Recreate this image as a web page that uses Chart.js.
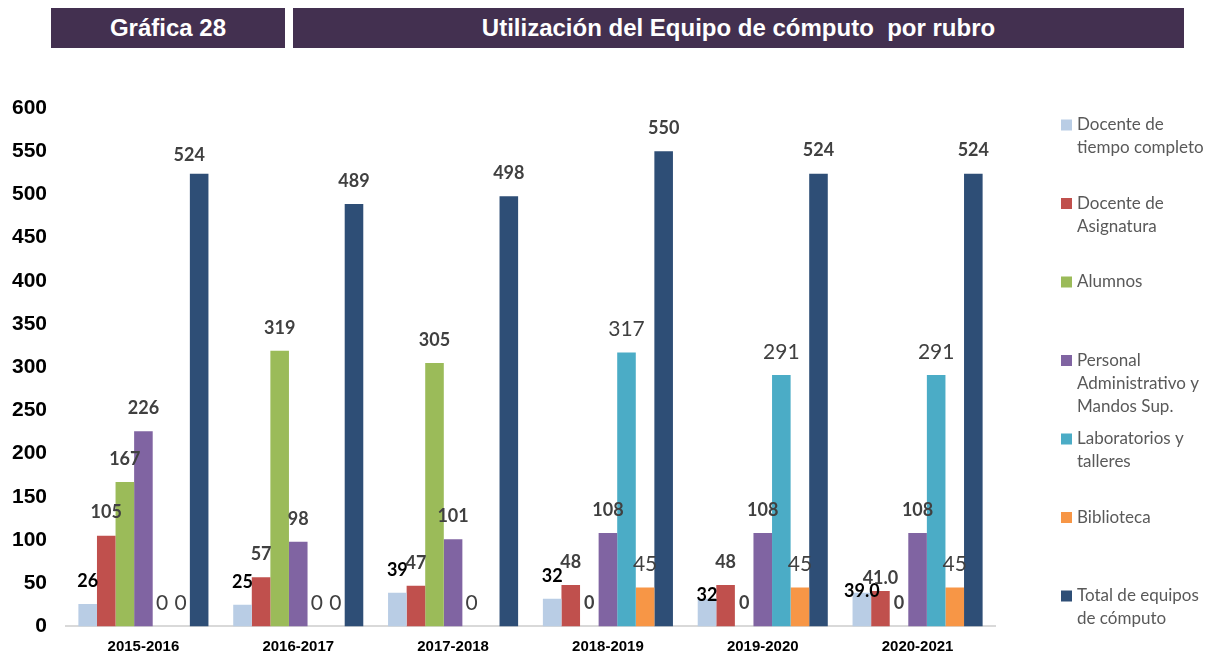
<!DOCTYPE html>
<html>
<head>
<meta charset="utf-8">
<script src="https://cdn.jsdelivr.net/npm/chart.js@4.4.1/dist/chart.umd.min.js"></script>
<style>
  html, body { margin: 0; padding: 0; background: #fff; }
  #wrap { position: relative; width: 1227px; height: 658px; }
  #myChart { position: absolute; left: 0; top: 0; }
  .hdr { position: absolute; top: 8px; height: 40px; background: #433050; color: #fff;
         font: bold 24px "Liberation Sans", Arial, sans-serif; line-height: 40px; text-align: center; }
</style>
</head>
<body>
<div id="wrap">
  <canvas id="myChart" width="1227" height="658"></canvas>
  <div class="hdr" style="left:51px;width:234px;">Gráfica 28</div>
  <div class="hdr" style="left:293px;width:891px;">Utilización del Equipo de cómputo &nbsp;por rubro</div>
</div>
<script>
// data
const years = ["2015-2016", "2016-2017", "2017-2018", "2018-2019", "2019-2020", "2020-2021"];
const docenteTC = [26, 25, 39, 32, 32, 39.0];
const docenteAsig = [105, 57, 47, 48, 48, 41.0];
const alumnos = [167, 319, 305, 0, 0, 0];
const personal = [226, 98, 101, 108, 108, 108];
const laboratorios = [0, 0, 0, 317, 291, 291];
const biblioteca = [0, 0, null, 45, 45, 45];
const totalEquipos = [524, 489, 498, 550, 524, 524];
const yTicks = [0, 50, 100, 150, 200, 250, 300, 350, 400, 450, 500, 550, 600];

const legendLines = [
    ["Docente de", "tiempo completo"],
    ["Docente de", "Asignatura"],
    ["Alumnos"],
    ["Personal", "Administrativo y", "Mandos Sup."],
    ["Laboratorios y", "talleres"],
    ["Biblioteca"],
    ["Total de equipos", "de cómputo"]
];

// label text / nudges (series,index)
const labelText = { "0,5": "39.0", "1,5": "41.0" };
const labelNudge = { "0,4": [0, 19], "0,5": [0, 21], "1,5": [0, 10], "6,0": [-10, 5] };

const boldLbl = 'bold 18px Lato, "Open Sans", sans-serif';
const thinLbl = '21px Lato, "Open Sans", sans-serif';

const labelPlugin = {
    id: 'barLabels',
    afterDatasetsDraw(chart) {
        const c = chart.ctx;
        chart.data.datasets.forEach((ds, i) => {
            const meta = chart.getDatasetMeta(i);
            meta.data.forEach((bar, j) => {
                const v = ds.data[j];
                if (v === null || v === undefined) return;
                const key = i + "," + j;
                const txt = labelText[key] || String(v);
                const n = labelNudge[key] || [0, 0];
                c.save();
                c.font = ds.lblFont;
                c.fillStyle = ds.lblColor;
                c.textAlign = 'center';
                c.textBaseline = 'middle';
                c.fillText(txt, bar.x + n[0], bar.y - 23 + n[1]);
                c.restore();
            });
        });
    }
};

const legendPlugin = {
    id: 'sideLegend',
    afterDraw(chart) {
        const c = chart.ctx;
        c.save();
        c.font = '17px Lato, "Open Sans", sans-serif';
        c.textBaseline = 'middle';
        c.textAlign = 'left';
        chart.data.datasets.forEach((ds, i) => {
            const y0 = 125 + i * 78.5;
            c.fillStyle = ds.backgroundColor;
            c.fillRect(1061, y0 - 5.5, 11, 11);
            c.fillStyle = '#595959';
            legendLines[i].forEach((t, k) => c.fillText(t, 1077, y0 + k * 23));
        });
        c.restore();
    }
};

const ctx = document.getElementById('myChart');
new Chart(ctx, {
    type: 'bar',
    data: {
        labels: years,
        datasets: [
            { label: legendLines[0].join(' '), data: docenteTC, backgroundColor: '#b9cde5', lblFont: boldLbl, lblColor: '#000' },
            { label: legendLines[1].join(' '), data: docenteAsig, backgroundColor: '#c0504d', lblFont: boldLbl, lblColor: '#404040' },
            { label: legendLines[2].join(' '), data: alumnos, backgroundColor: '#9bbb59', lblFont: boldLbl, lblColor: '#404040' },
            { label: legendLines[3].join(' '), data: personal, backgroundColor: '#8064a2', lblFont: boldLbl, lblColor: '#404040' },
            { label: legendLines[4].join(' '), data: laboratorios, backgroundColor: '#4bacc6', lblFont: thinLbl, lblColor: '#404040' },
            { label: legendLines[5].join(' '), data: biblioteca, backgroundColor: '#f79646', lblFont: thinLbl, lblColor: '#404040' },
            { label: legendLines[6].join(' '), data: totalEquipos, backgroundColor: '#2e4e76', lblFont: boldLbl, lblColor: '#404040' }
        ]
    },
    options: {
        responsive: false,
        animation: false,
        layout: { padding: { left: 0, right: 232, top: 108, bottom: 0 } },
        plugins: {
            legend: { display: false },
            tooltip: { enabled: false }
        },
        datasets: {
            bar: { categoryPercentage: 0.84, barPercentage: 1.0 }
        },
        scales: {
            y: {
                min: 0,
                max: 600,
                afterBuildTicks: (s) => { s.ticks = yTicks.map(v => ({ value: v })); },
                afterFit: (s) => { s.width = 66; },
                grid: { display: false, tickLength: 0 },
                border: { display: false },
                ticks: {
                    padding: 19,
                    color: '#000',
                    font: { family: '"Liberation Sans", Arial, sans-serif', size: 21, weight: 'bold' }
                }
            },
            x: {
                afterFit: (s) => { s.height = 29; },
                grid: { display: false, tickLength: 0 },
                border: { display: true, color: '#d9d9d9', width: 2 },
                ticks: {
                    padding: 11,
                    color: '#000',
                    maxRotation: 0,
                    font: { family: '"Liberation Sans", Arial, sans-serif', size: 15, weight: 'bold' }
                }
            }
        }
    },
    plugins: [labelPlugin, legendPlugin]
});
</script>
</body>
</html>
